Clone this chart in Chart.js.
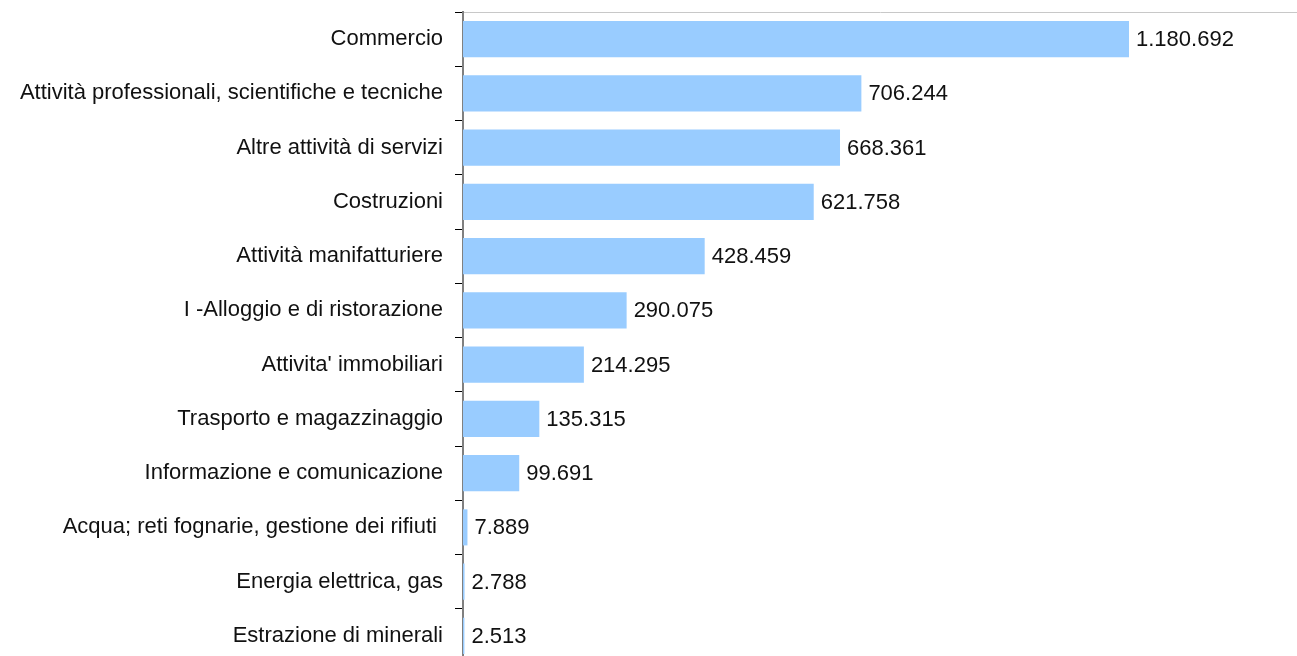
<!DOCTYPE html>
<html>
<head>
<meta charset="utf-8">
<script src="https://cdn.jsdelivr.net/npm/chart.js@4/dist/chart.umd.min.js"></script>
<style>
  html, body { margin: 0; padding: 0; background: #fff; overflow: hidden; }
  #wrap { width: 1297px; height: 663px; position: relative; }
</style>
</head>
<body>
<div id="wrap"><canvas id="myBarChart"></canvas></div>
<script>
const categories = [
    'Commercio',
    'Attività professionali, scientifiche e tecniche',
    'Altre attività di servizi',
    'Costruzioni',
    'Attività manifatturiere',
    'I -Alloggio e di ristorazione',
    "Attivita' immobiliari",
    'Trasporto e magazzinaggio',
    'Informazione e comunicazione',
    'Acqua; reti fognarie, gestione dei rifiuti ',
    'Energia elettrica, gas',
    'Estrazione di minerali'
];
const imprese = [1180692, 706244, 668361, 621758, 428459, 290075, 214295, 135315, 99691, 7889, 2788, 2513];

function formatIt(v) {
    return String(v).replace(/\B(?=(\d{3})+(?!\d))/g, '.');
}

// values written just right of each bar
const valueLabels = {
    id: 'valueLabels',
    afterDatasetsDraw(chart) {
        const ctx = chart.ctx;
        const meta = chart.getDatasetMeta(0);
        ctx.save();
        ctx.font = '22px "Liberation Sans", Arial, sans-serif';
        ctx.fillStyle = '#111';
        ctx.textAlign = 'left';
        ctx.textBaseline = 'middle';
        meta.data.forEach((bar, i) => {
            ctx.fillText(formatIt(chart.data.datasets[0].data[i]), bar.x + 7, bar.y + 1);
        });
        ctx.restore();
    }
};

const barCtx = document.getElementById('myBarChart').getContext('2d');
const myBarChart = new Chart(barCtx, {
    type: 'bar',
    data: {
        labels: categories,
        datasets: [{
            label: 'Imprese',
            data: imprese,
            backgroundColor: '#99ccff',
            borderWidth: 0,
            categoryPercentage: 1,
            barPercentage: 0.665
        }]
    },
    options: {
        indexAxis: 'y',
        responsive: true,
        maintainAspectRatio: false,
        animation: false,
        layout: { padding: 0 },
        plugins: {
            legend: { display: false },
            tooltip: { enabled: false }
        },
        scales: {
            x: {
                position: 'top',
                min: 0,
                max: 1478500,
                ticks: { display: false },
                grid: { display: false },
                border: { display: true, color: '#c8c8c8', width: 1 },
                afterFit: (s) => { s.height = 12; s.paddingLeft = 0; s.paddingRight = 0; }
            },
            y: {
                ticks: {
                    color: '#111',
                    padding: 12,
                    autoSkip: false,
                    font: { family: '"Liberation Sans", Arial, sans-serif', size: 22 }
                },
                grid: {
                    drawOnChartArea: false,
                    drawTicks: true,
                    tickLength: 8,
                    color: '#000',
                    offset: true
                },
                border: { display: true, color: '#808080', width: 2 },
                afterFit: (s) => { s.width = 463; s.paddingTop = 0; s.paddingBottom = 0; }
            }
        }
    },
    plugins: [valueLabels]
});
</script>
</body>
</html>
